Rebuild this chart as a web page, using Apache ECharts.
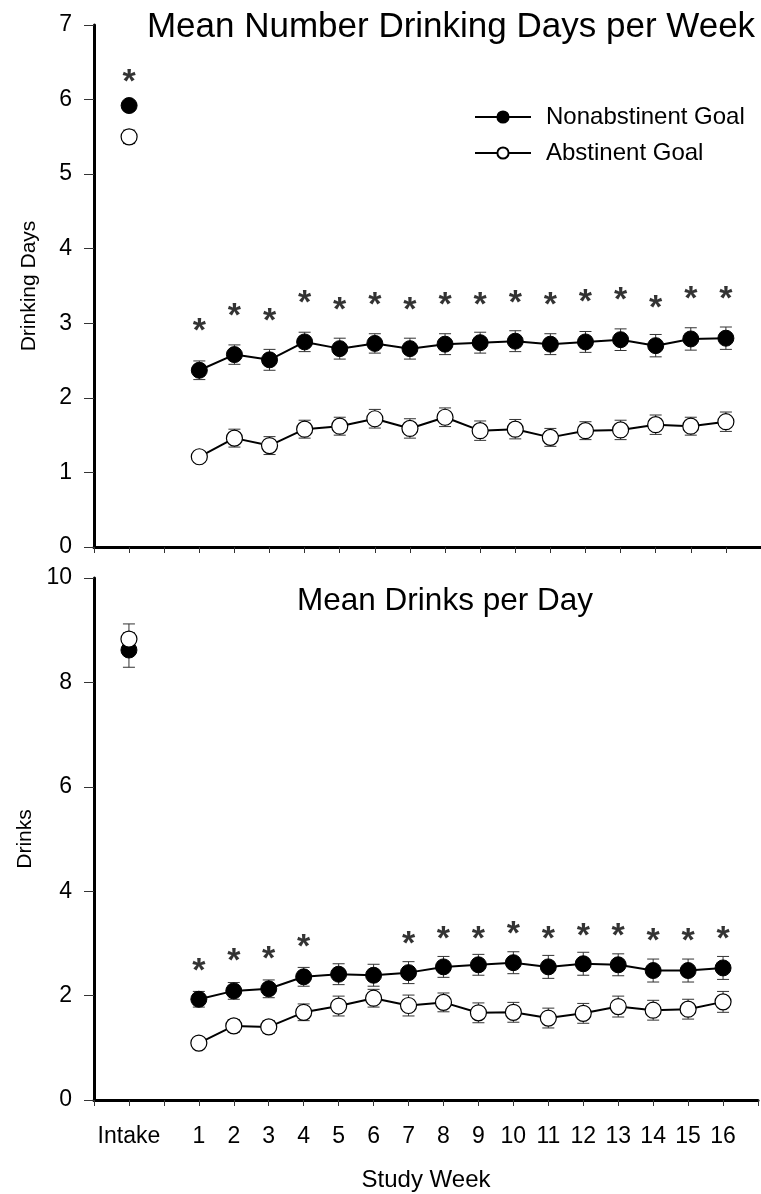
<!DOCTYPE html>
<html>
<head>
<meta charset="utf-8">
<script src="https://cdn.jsdelivr.net/npm/echarts@6/dist/echarts.min.js"></script>
<style>
  html, body { margin: 0; padding: 0; background: #fff; }
  #chart { width: 761px; height: 1194px; }
</style>
</head>
<body>
<div id="chart"></div>
<script>
// weeks 1..16, intake drawn at x = -1
const weeks = [1, 2, 3, 4, 5, 6, 7, 8, 9, 10, 11, 12, 13, 14, 15, 16];
const intakeX = -1;

// top panel: drinking days per week
const daysNonAbs = [2.37, 2.58, 2.51, 2.75, 2.66, 2.73, 2.66, 2.72, 2.74, 2.76, 2.72, 2.75, 2.78, 2.70, 2.79, 2.80];
const daysNonAbsErr = [0.125, 0.13, 0.14, 0.13, 0.14, 0.13, 0.14, 0.14, 0.14, 0.14, 0.14, 0.14, 0.145, 0.15, 0.15, 0.15];
const daysAbs = [1.21, 1.46, 1.36, 1.58, 1.62, 1.72, 1.59, 1.74, 1.56, 1.58, 1.47, 1.56, 1.57, 1.64, 1.62, 1.68];
const daysAbsErr = [0.07, 0.12, 0.12, 0.12, 0.12, 0.125, 0.13, 0.125, 0.13, 0.13, 0.12, 0.12, 0.13, 0.13, 0.12, 0.13];
const daysIntake = [5.92, 5.50];      // nonabstinent, abstinent
const daysIntakeErr = [0.05, 0.09];
const daysStars = [2.95, 3.15, 3.09, 3.33, 3.24, 3.31, 3.24, 3.30, 3.30, 3.33, 3.30, 3.35, 3.37, 3.27, 3.39, 3.39];
const daysIntakeStar = 6.30;

// bottom panel: drinks per day
const drinksNonAbs = [1.93, 2.09, 2.13, 2.36, 2.41, 2.39, 2.44, 2.55, 2.59, 2.63, 2.55, 2.61, 2.59, 2.48, 2.48, 2.53];
const drinksNonAbsErr = [0.15, 0.16, 0.17, 0.18, 0.2, 0.21, 0.21, 0.2, 0.2, 0.21, 0.22, 0.22, 0.21, 0.22, 0.22, 0.22];
const drinksAbs = [1.09, 1.42, 1.40, 1.68, 1.80, 1.95, 1.81, 1.87, 1.67, 1.68, 1.57, 1.66, 1.79, 1.72, 1.74, 1.88];
const drinksAbsErr = [0.06, 0.12, 0.12, 0.16, 0.19, 0.17, 0.2, 0.18, 0.19, 0.19, 0.19, 0.19, 0.2, 0.19, 0.19, 0.2];
const drinksIntake = [8.62, 8.83];
const drinksIntakeErr = [0.33, 0.29];
const drinksStars = [2.55, 2.75, 2.78, 3.01, null, null, 3.07, 3.16, 3.17, 3.26, 3.17, 3.22, 3.22, 3.13, 3.13, 3.16];

const FONT = 'Liberation Sans';
const NON = 'Nonabstinent Goal';
const ABS = 'Abstinent Goal';

const filledStyle = { color: '#000', borderColor: '#000', borderWidth: 1, opacity: 1 };
const openStyle = { color: '#fff', borderColor: '#000', borderWidth: 1.2, opacity: 1 };

function pairs(vals) {
  return weeks.map((w, i) => [w, vals[i]]);
}
function errData(vals, errs) {
  return weeks.map((w, i) => [w, vals[i], errs[i]]);
}

// vertical error bar with caps
function renderErr(params, api) {
  const x = api.value(0), m = api.value(1), e = api.value(2);
  const hi = api.coord([x, m + e]);
  const lo = api.coord([x, m - e]);
  const cap = 6;
  const st = { stroke: '#333', lineWidth: 1 };
  return {
    type: 'group',
    children: [
      { type: 'line', shape: { x1: hi[0], y1: hi[1], x2: lo[0], y2: lo[1] }, style: st },
      { type: 'line', shape: { x1: hi[0] - cap, y1: hi[1], x2: hi[0] + cap, y2: hi[1] }, style: st },
      { type: 'line', shape: { x1: lo[0] - cap, y1: lo[1], x2: lo[0] + cap, y2: lo[1] }, style: st }
    ]
  };
}

function panelSeries(idx, non, nonErr, abs, absErr, intake, intakeErr, stars, intakeStar) {
  const ax = { xAxisIndex: idx, yAxisIndex: idx };
  const errRows = errData(non, nonErr).concat(errData(abs, absErr));
  errRows.push([intakeX, intake[0], intakeErr[0]], [intakeX, intake[1], intakeErr[1]]);
  const starPts = [];
  stars.forEach((s, i) => { if (s != null) starPts.push([weeks[i], s]); });
  if (intakeStar != null) starPts.push([intakeX, intakeStar]);
  return [
    Object.assign({ type: 'custom', name: 'err' + idx, renderItem: renderErr, data: errRows, z: 1, silent: true }, ax),
    Object.assign({
      type: 'line', name: NON, data: pairs(non), symbol: 'circle', symbolSize: 16,
      lineStyle: { color: '#000', width: 2 }, itemStyle: filledStyle, z: 3
    }, ax),
    Object.assign({
      type: 'line', name: ABS, data: pairs(abs), symbol: 'circle', symbolSize: 16,
      lineStyle: { color: '#000', width: 2 }, itemStyle: openStyle, z: 4
    }, ax),
    Object.assign({
      type: 'scatter', name: 'intakeNon' + idx, data: [[intakeX, intake[0]]], symbolSize: 16,
      itemStyle: filledStyle, z: 3
    }, ax),
    Object.assign({
      type: 'scatter', name: 'intakeAbs' + idx, data: [[intakeX, intake[1]]], symbolSize: 16,
      itemStyle: openStyle, z: 4
    }, ax),
    Object.assign({
      type: 'scatter', name: 'stars' + idx, data: starPts, symbolSize: 0, silent: true,
      label: {
        show: true, position: 'inside', formatter: '*', color: '#000',
        fontFamily: FONT, fontSize: 34, fontWeight: 'bold', offset: [0, 5]
      },
      z: 5
    }, ax)
  ];
}

function xAxis(idx, withLabels) {
  return {
    type: 'value', gridIndex: idx, min: -2, max: 17, interval: 1,
    splitLine: { show: false },
    axisLine: { show: true, onZero: false, lineStyle: { color: '#000', width: 3 } },
    axisTick: { show: true, length: 6, lineStyle: { color: '#333', width: 1 } },
    axisLabel: {
      show: withLabels, margin: 25, color: '#000', fontFamily: FONT, fontSize: 23,
      formatter: v => (v === intakeX ? 'Intake' : (v >= 1 && v <= 16 ? String(v) : ''))
    },
    name: withLabels ? 'Study Week' : '', nameLocation: 'middle', nameGap: 68,
    nameTextStyle: { color: '#000', fontFamily: FONT, fontSize: 24 }
  };
}

function yAxis(idx, max, interval, name) {
  return {
    type: 'value', gridIndex: idx, min: 0, max: max, interval: interval,
    splitLine: { show: false },
    axisLine: { show: true, onZero: false, lineStyle: { color: '#000', width: 3 } },
    axisTick: { show: true, length: 10, lineStyle: { color: '#333', width: 1 } },
    axisLabel: { margin: 22, color: '#000', fontFamily: FONT, fontSize: 23 },
    name: name, nameLocation: 'middle', nameGap: 54,
    nameTextStyle: { color: '#000', fontFamily: FONT, fontSize: 21 }
  };
}

const chart = echarts.init(document.getElementById('chart'), null, { renderer: 'canvas' });
chart.setOption({
  animation: false,
  backgroundColor: '#fff',
  textStyle: { fontFamily: FONT },
  title: [
    { text: 'Mean Number Drinking Days per Week', left: 446, top: 5, textAlign: 'center',
      textStyle: { fontFamily: FONT, fontSize: 35, fontWeight: 'normal', color: '#000' } },
    { text: 'Mean Drinks per Day', left: 440, top: 580, textAlign: 'center',
      textStyle: { fontFamily: FONT, fontSize: 31.5, fontWeight: 'normal', color: '#000' } }
  ],
  legend: {
    data: [NON, ABS], orient: 'vertical', left: 474, top: 105, padding: 0,
    itemWidth: 56, itemHeight: 14, itemGap: 12,
    textStyle: { fontFamily: FONT, fontSize: 24, color: '#000', padding: [0, 0, 0, 10] }
  },
  grid: [
    { left: 94, right: 0, top: 25, height: 522 },
    { left: 94, right: 0, top: 578, height: 522 }
  ],
  xAxis: [xAxis(0, false), xAxis(1, true)],
  yAxis: [yAxis(0, 7, 1, 'Drinking Days'), yAxis(1, 10, 2, 'Drinks')],
  series: [].concat(
    panelSeries(0, daysNonAbs, daysNonAbsErr, daysAbs, daysAbsErr, daysIntake, daysIntakeErr, daysStars, daysIntakeStar),
    panelSeries(1, drinksNonAbs, drinksNonAbsErr, drinksAbs, drinksAbsErr, drinksIntake, drinksIntakeErr, drinksStars, null)
  )
});
</script>
</body>
</html>
